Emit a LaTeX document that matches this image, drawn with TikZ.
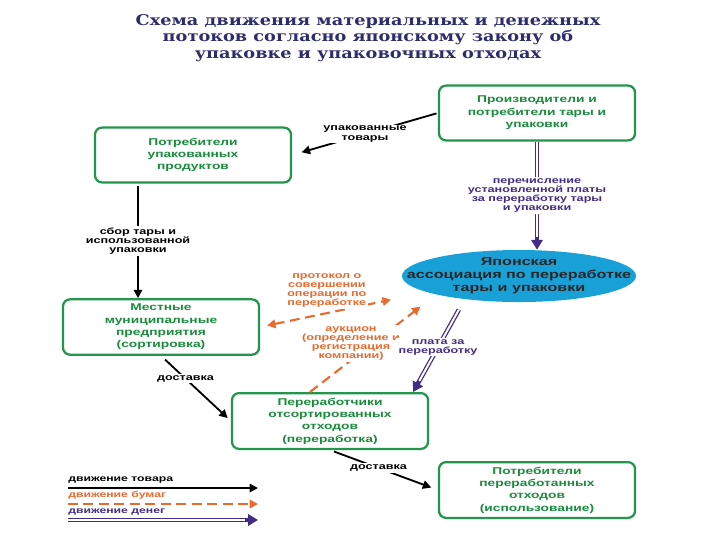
\documentclass[tikz,border=0pt]{standalone}
\usepackage{fontspec}
\setmainfont{Liberation Sans}[FakeStretch=1.4]
\newfontfamily\titlefont{DejaVu Serif}[FakeStretch=1.2]
\usetikzlibrary{arrows.meta,calc,shapes.geometric}
\definecolor{boxgreen}{RGB}{35,150,75}
\definecolor{txtgreen}{RGB}{25,140,60}
\definecolor{assocblue}{RGB}{25,160,215}
\definecolor{paperor}{RGB}{235,105,45}
\definecolor{money}{RGB}{65,45,135}
\definecolor{titlenavy}{RGB}{45,45,110}

\begin{document}
\begin{tikzpicture}[x=0.025cm, y=-0.025cm,
  every node/.style={font=\bfseries},
  box/.style={draw=boxgreen, line width=1.6pt, rounded corners=5pt, fill=white, text=txtgreen,
    align=center, minimum width=4.9cm, minimum height=1.37cm, font=\bfseries\fontsize{7}{8.8}\selectfont},
  assocn/.style={ellipse, fill=assocblue, inner xsep=-0.8cm, inner ysep=0pt, minimum width=5.85cm, minimum height=1.3cm,
    align=center, text=black!85, font=\bfseries\fontsize{8.2}{9.4}\selectfont},
  lbl/.style={fill=white, align=center, inner sep=1pt, font=\bfseries\fontsize{6.4}{6.5}\selectfont},
  legtxt/.style={anchor=south west, inner sep=0pt, font=\bfseries\fontsize{6.2}{6.5}\selectfont},
  goods/.style={draw=black, line width=1.3pt, -{Triangle[length=6pt,width=6pt]}},
  paper/.style={draw=paperor, line width=1.5pt, dash pattern=on 7pt off 4pt, -{Triangle[length=6pt,width=6pt]}},
  cash/.style={draw=money, line width=3.2pt, -{Triangle[length=7pt,width=8pt]},
    postaction={draw=white, line width=1.4pt, -, shorten >=9pt}}]
\useasboundingbox (0,0) rectangle (720,540);

\node[font=\titlefont\bfseries\fontsize{10.5}{11.8}\selectfont, text=titlenavy, align=center] (title) at (368,38)
  {Схема движения материальных и денежных\\потоков согласно японскому закону об\\упаковке и упаковочных отходах};

\node[box] (prod) at (537,113) {Производители и\\потребители тары и\\упаковки};
\node[box] (cons) at (193,155) {Потребители\\упакованных\\продуктов};
\node[assocn] (assoc) at (519,276) {Японская\\ассоциация по переработке\\тары и упаковки};
\node[box] (mun) at (161,327) {Местные\\муниципальные\\предприятия\\(сортировка)};
\node[box] (rec) at (330,421) {Переработчики\\отсортированных\\отходов\\(переработка)};
\node[box] (user) at (537,490) {Потребители\\переработанных\\отходов\\(использование)};

\draw[goods, shorten <=1pt, shorten >=7pt] (prod.west) -- node[lbl] {упакованные\\товары} (cons.east);
\draw[goods, shorten <=2pt] ($(cons.south)+(-55,0)$) -- node[lbl] {сбор тары и\\использованной\\упаковки} ($(mun.north)+(-23,0)$);
\draw[cash] (prod.south) -- node[lbl, text=money] {перечисление\\установленной платы\\за переработку тары\\и упаковки} (prod.south |- assoc.north);
\draw[paper, {Triangle[length=6pt,width=6pt]}-{Triangle[length=6pt,width=6pt]}, shorten <=5pt, shorten >=26pt]
  (mun.east) -- node[pos=0.4, above=2pt, lbl, text=paperor] {протокол о\\совершении\\операции по\\переработке} (assoc.190);
\draw[paper, shorten >=14pt] ($(rec.north)+(-20,0)$) -- node[lbl, text=paperor, pos=0.5, xshift=-0.55cm]
  {аукцион\\(определение и\\регистрация\\компании)} (assoc.south west);
\draw[cash, shorten <=6pt] ($(assoc.south)+(-56,0)$) -- node[lbl, text=money] {плата за\\переработку} ($(rec.north east)+(-16,0)$);
\draw[goods, shorten <=4pt, shorten >=3pt] (mun.south) -- node[lbl, pos=0.35] {доставка} (rec.west);
\draw[goods, shorten <=3pt, shorten >=5pt] (rec.south) -- node[lbl, pos=0.45] {доставка} (user.west);

% legend
\coordinate (g0) at (68,488); \coordinate (g1) at (258,488);
\coordinate (p0) at (68,504); \coordinate (p1) at (258,504);
\coordinate (m0) at (68,520); \coordinate (m1) at (258,520);
\node[legtxt] (legg) at (68,484) {движение товара};
\node[legtxt, text=paperor] (legp) at (68,500) {движение бумаг};
\node[legtxt, text=money] (legm) at (68,516) {движение денег};
\draw[goods] (g0) -- (g1);
\draw[paper] (p0) -- (p1);
\draw[cash] (m0) -- (m1);
\end{tikzpicture}
\end{document}
